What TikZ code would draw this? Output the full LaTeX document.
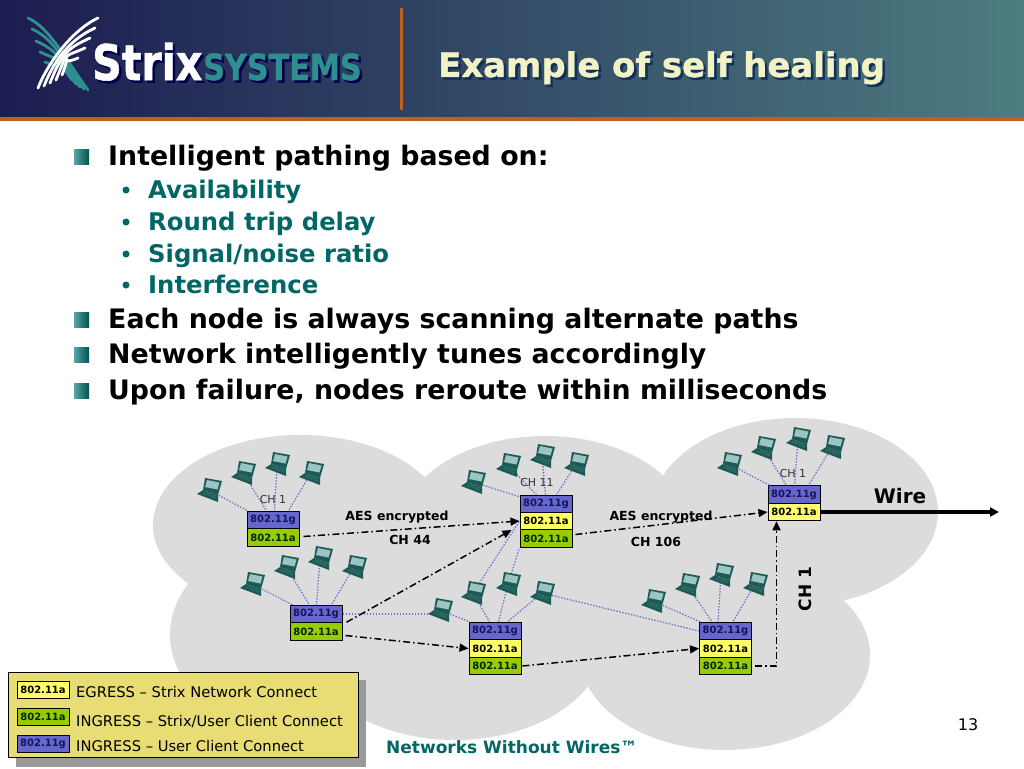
\documentclass[tikz,border=0pt]{standalone}
\usepackage{fontspec}
\setmainfont{DejaVu Sans}
\newfontfamily\logofont[BoldFeatures={FakeBold=1.2}]{DejaVu Sans}
\usetikzlibrary{arrows.meta,calc,shadings}
\definecolor{cloudc}{HTML}{DCDCDC}
\definecolor{bluec}{HTML}{6666CC}
\definecolor{greenc}{HTML}{99CC00}
\definecolor{yellowc}{HTML}{FFFF66}
\definecolor{navytxt}{HTML}{14145A}
\definecolor{tealtxt}{HTML}{006666}
\definecolor{orangec}{HTML}{C0601F}
\definecolor{legendc}{HTML}{E8DC74}
\definecolor{lapdark}{HTML}{1C5A55}
\definecolor{lapscreen}{HTML}{9CC4C0}
\definecolor{linkc}{HTML}{7070CC}
\definecolor{logoteal}{HTML}{2F8F90}
\definecolor{titlec}{HTML}{F2F2C4}
\definecolor{titlesh}{HTML}{10305C}
\definecolor{headl}{RGB}{28,28,80}
\definecolor{headm}{RGB}{46,70,98}
\definecolor{headr}{RGB}{76,124,128}
\newcommand\fs[1]{\fontsize{#1}{#1}\selectfont}
\tikzset{
  radiobox/.style={draw=black,line width=1pt,minimum width=52pt,minimum height=17.5pt,inner sep=0pt,font=\fs{10}\bfseries},
  bluebox/.style={radiobox,fill=bluec,text=navytxt},
  greenbox/.style={radiobox,fill=greenc,text=black!85!green},
  yellowbox/.style={radiobox,fill=yellowc,text=black},
  lapnode/.style={inner sep=0pt,minimum size=14pt},
  dotlink/.style={linkc,line width=1.2pt,dash pattern=on 1.5pt off 1.5pt},
  dashlink/.style={black,line width=1.5pt,dash pattern=on 7pt off 3pt on 1.5pt off 3pt},
  arrowlink/.style={dashlink,-{Triangle[length=9pt,width=8pt]}},
  mainitem/.style={anchor=base west,inner sep=0pt,font=\fs{26.8}\bfseries,text=black},
  subitem/.style={anchor=base west,inner sep=0pt,font=\fs{24.3}\bfseries,text=tealtxt},
  smalllabel/.style={inner sep=0pt,font=\fs{12.5}\bfseries},
  chlabel/.style={inner sep=0pt,font=\fs{11},text=black!80},
  legendtext/.style={anchor=base west,inner sep=0pt,font=\fs{14.7},text=black},
  whitefeather/.style={white,line width=2.8pt,line cap=round},
  tealfeather/.style={logoteal,line width=2.8pt,line cap=round},
  bulletsq/.style={inner sep=0pt,minimum size=15pt,draw=none,left color=logoteal!80!white,right color=tealtxt!80!black},
  bulletdot/.style={circle,inner sep=0pt,minimum size=7pt,fill=tealtxt},
  laptop/.pic={
    \fill[lapdark] (-4,-12) -- (13,-9) -- (9,5) -- (-6,0) -- cycle;
    \fill[lapscreen] (-2,-10) -- (10.5,-7.5) -- (8.5,-0.5) -- (-4,-3) -- cycle;
    \fill[lapdark] (-6,0) -- (9,5) -- (9,12) -- (-12,4) -- cycle;
    \draw[lapscreen!35!lapdark,line width=.4pt] (-6,3) -- (7,8) (-4,1.8) -- (7,6);
  }
}
\begin{document}
\begin{tikzpicture}[x=1pt,y=-1pt]
\useasboundingbox (0,0) rectangle (1024,768);
\fill[white] (0,0) rectangle (1024,768);
% header
\shade[left color=headl,middle color=headm,right color=headr] (0,0) rectangle (1024,117);
\fill[orangec] (0,117) rectangle (1024,121);
\fill[orangec] (400,8) rectangle (403,110);
% logo
\foreach \sx/\sy/\ex/\ey in {28/18/88/90,32/29/84/89,36/41/80/87,40/52/76/84,45/62/72/80}{
  \draw[tealfeather] (\sx,\sy) .. controls (\sx+22,\sy+10) and (\ex-22,\ey-30) .. (\ex,\ey);
}
\foreach \bx/\by/\ex/\ey in {38/88/98/18,44/86/95/28,50/83/90/38,56/80/85/48,62/75/78/58}{
  \draw[whitefeather] (\bx,\by) .. controls (\bx+12,\by-30) and (\ex-22,\ey+10) .. (\ex,\ey);
}
\node[anchor=base west,inner sep=0pt,text=black!70!blue,xscale=.84] (logoshadowa) at (94.5,82.5) {\fs{49}\logofont\bfseries Strix};
\node[anchor=base west,inner sep=0pt,text=white,xscale=.84] (logoa) at (92,80) {\fs{49}\logofont\bfseries Strix};
\node[anchor=base west,inner sep=0pt,text=black!70!blue,xscale=.84] (logoshadowb) at (205.5,82.5) {\fs{36}\logofont\bfseries SYSTEMS};
\node[anchor=base west,inner sep=0pt,text=logoteal,xscale=.84] (logob) at (203,80) {\fs{36}\logofont\bfseries SYSTEMS};
% title
\node[anchor=base west,inner sep=0pt,text=titlesh] (titleshadow) at (440.5,79.5) {\fs{33.9}\logofont\bfseries Example of self healing};
\node[anchor=base west,inner sep=0pt,text=titlec] (title) at (438,77) {\fs{33.9}\logofont\bfseries Example of self healing};
% bullets
\foreach \n/\y in {a/157,b/320,c/355,d/391}{\node[bulletsq] (sq\n) at (81.5,\y) {};}
\foreach \n/\y in {a/190,b/222,c/254,d/285}{\node[bulletdot] (dot\n) at (126,\y) {};}
\node[mainitem] (m1) at (108,165) {Intelligent pathing based on:};
\node[subitem] (s1) at (148,198) {Availability};
\node[subitem] (s2) at (148,230) {Round trip delay};
\node[subitem] (s3) at (148,262) {Signal/noise ratio};
\node[subitem] (s4) at (148,293) {Interference};
\node[mainitem] (m2) at (108,328) {Each node is always scanning alternate paths};
\node[mainitem] (m3) at (108,363) {Network intelligently tunes accordingly};
\node[mainitem] (m4) at (108,399) {Upon failure, nodes reroute within milliseconds};
% clouds
\fill[cloudc] (300,525) ellipse [x radius=147,y radius=90];
\fill[cloudc] (545,530) ellipse [x radius=145,y radius=94];
\fill[cloudc] (795,512) ellipse [x radius=143,y radius=94];
\fill[cloudc] (725,655) ellipse [x radius=145,y radius=95];
\fill[cloudc] (300,635) ellipse [x radius=130,y radius=100];
\fill[cloudc] (455,640) ellipse [x radius=150,y radius=100];
\fill[cloudc] (220,560) -- (800,520) -- (800,650) -- (300,690) -- cycle;
% radio boxes
\node[bluebox]  (Ag) at (273,520) {802.11g};
\node[greenbox] (Aa) at (273,537.5) {802.11a};
\node[bluebox]  (Bg) at (316,614) {802.11g};
\node[greenbox] (Ba) at (316,631.5) {802.11a};
\node[bluebox]  (Cg) at (546,504) {802.11g};
\node[yellowbox](Cy) at (546,521) {802.11a};
\node[greenbox] (Ca) at (546,538.5) {802.11a};
\node[bluebox]  (Dg) at (495,631) {802.11g};
\node[yellowbox](Dy) at (495,648.5) {802.11a};
\node[greenbox] (Da) at (495,666) {802.11a};
\node[bluebox]  (Eg) at (725.5,631) {802.11g};
\node[yellowbox](Ey) at (725.5,648.5) {802.11a};
\node[greenbox] (Ea) at (725.5,666) {802.11a};
\node[bluebox]  (Fg) at (794,494.5) {802.11g};
\node[yellowbox](Fy) at (794,512) {802.11a};
% laptops (anchors)
\foreach \n/\x/\y in {
 a1/209/490,a2/243/473,a3/277/464,a4/311/473,
 b1/252/584,b2/286/567,b3/320/558,b4/354/567,
 c1/473/482,c2/508/465,c3/542/456,c4/576/464,
 d1/440/610,d2/473/593,d3/508/584,d4/542/593,
 e1/653/601,e2/687/585,e3/721/575,e4/755/584,
 f1/729/464,f2/763/448,f3/798/439,f4/832/447}{
  \node[lapnode] (\n) at (\x,\y) {};
}
% dotted client links
\draw[dotlink] (a1) -- ([xshift=1pt]Ag.north west);
\draw[dotlink] (a2) -- ([xshift=20pt]Ag.north west);
\draw[dotlink] (a3) -- ([xshift=28pt]Ag.north west);
\draw[dotlink] (a4) -- ([xshift=42pt]Ag.north west);
\draw[dotlink] (b1) -- ([xshift=3pt]Bg.north west);
\draw[dotlink] (b2) -- ([xshift=20pt]Bg.north west);
\draw[dotlink] (b3) -- ([xshift=27pt]Bg.north west);
\draw[dotlink] (b4) -- ([xshift=42pt]Bg.north west);
\draw[dotlink] (c1) -- ([yshift=-2pt]Cg.north west);
\draw[dotlink] (c2) -- ([xshift=17pt]Cg.north west);
\draw[dotlink] (c3) -- ([xshift=26pt]Cg.north west);
\draw[dotlink] (c4) -- ([xshift=37pt]Cg.north west);
\draw[dotlink] (d1) -- ([xshift=1pt]Dg.north west);
\draw[dotlink] (d2) -- ([xshift=21pt]Dg.north west);
\draw[dotlink] (d3) -- ([xshift=30pt]Dg.north west);
\draw[dotlink] (d4) -- ([xshift=39pt]Dg.north west);
\draw[dotlink] (e1) -- ([xshift=1pt]Eg.north west);
\draw[dotlink] (e2) -- ([xshift=13pt]Eg.north west);
\draw[dotlink] (e3) -- ([xshift=19pt]Eg.north west);
\draw[dotlink] (e4) -- ([xshift=34pt]Eg.north west);
\draw[dotlink] (f1) -- ([xshift=2pt]Fg.north west);
\draw[dotlink] (f2) -- ([xshift=19pt]Fg.north west);
\draw[dotlink] (f3) -- ([xshift=27pt]Fg.north west);
\draw[dotlink] (f4) -- ([xshift=41pt]Fg.north west);
\draw[dotlink] (Bg.east) -- (d1 |- Bg.east);
\draw[dotlink] (d4) -- (Eg.west);
\draw[dotlink] (d2) -- (Cy.west);
\draw[dotlink] (d3) -- (Ca.south west);
% laptops
\foreach \n in {a1,a2,a3,a4,b1,b2,b3,b4,c1,c2,c3,c4,d1,d2,d3,d4,e1,e2,e3,e4,f1,f2,f3,f4}{
  \pic at (\n) {laptop};
}
% labels
\node[smalllabel] (aes1) at (397,517) {AES encrypted};
\node[smalllabel] (ch44) at (410,540) {CH 44};
\node[smalllabel] (aes2) at (661,517) {AES encrypted};
\node[smalllabel] (ch106) at (656,542) {CH 106};
\node[inner sep=0pt,font=\fs{17}\bfseries,rotate=90] (ch1v) at (805,589) {CH 1};
\node[inner sep=0pt,font=\fs{20}\bfseries] (wire) at (900,496) {Wire};
\node[chlabel] (cha) at (273,499) {CH 1};
\node[chlabel] (chc) at (537,482) {CH 11};
\node[chlabel] (chf) at (793,473) {CH 1};
% backbone links
\coordinate (wireend) at (999,512);
\draw[arrowlink] ([xshift=4pt,yshift=1pt]Aa.east) -- (Cy.west);
\draw[arrowlink] ([xshift=4pt]Ba.north east) -- ([xshift=-8pt,yshift=-9pt]Cy.west);
\draw[arrowlink] ([xshift=3pt,yshift=-4pt]Ba.east) -- (Dy.west);
\draw[arrowlink] ([xshift=1pt]Da.east) -- (Ey.west);
\draw[arrowlink] ([xshift=3pt,yshift=4pt]Ca.east) -- (Fy.west);
\coordinate (elbow) at ($(Fy.south west)+(9,0)$);
\draw[arrowlink] ([xshift=3pt]Ea.east) -- (elbow |- Ea.east) -- (elbow);
\draw[line width=3.2pt,-{Triangle[length=9pt,width=9pt]}] (Fy.east) -- (wireend);
% legend
\fill[black!40] (16,680) rectangle (366,767);
\node[draw=black,line width=1pt,fill=legendc,minimum width=350pt,minimum height=85pt,inner sep=0pt] (legend) at (183,714.5) {};
\node[yellowbox,minimum height=16.5pt] (Ly) at (43,690) {802.11a};
\node[greenbox,minimum height=16.5pt] (Lg) at (43,717) {802.11a};
\node[bluebox,minimum height=16.5pt] (Lb) at (43,744) {802.11g};
\node[legendtext] (lt1) at (76,697) {EGRESS – Strix Network Connect};
\node[legendtext] (lt2) at (76,726) {INGRESS – Strix/User Client Connect};
\node[legendtext] (lt3) at (76,751) {INGRESS – User Client Connect};
% footer
\node[anchor=base west,inner sep=0pt,font=\fs{17}\bfseries,text=tealtxt] (foot) at (386,753) {Networks Without Wires™};
\node[inner sep=0pt,font=\fs{16}] (page) at (968,725) {13};
\end{tikzpicture}
\end{document}
